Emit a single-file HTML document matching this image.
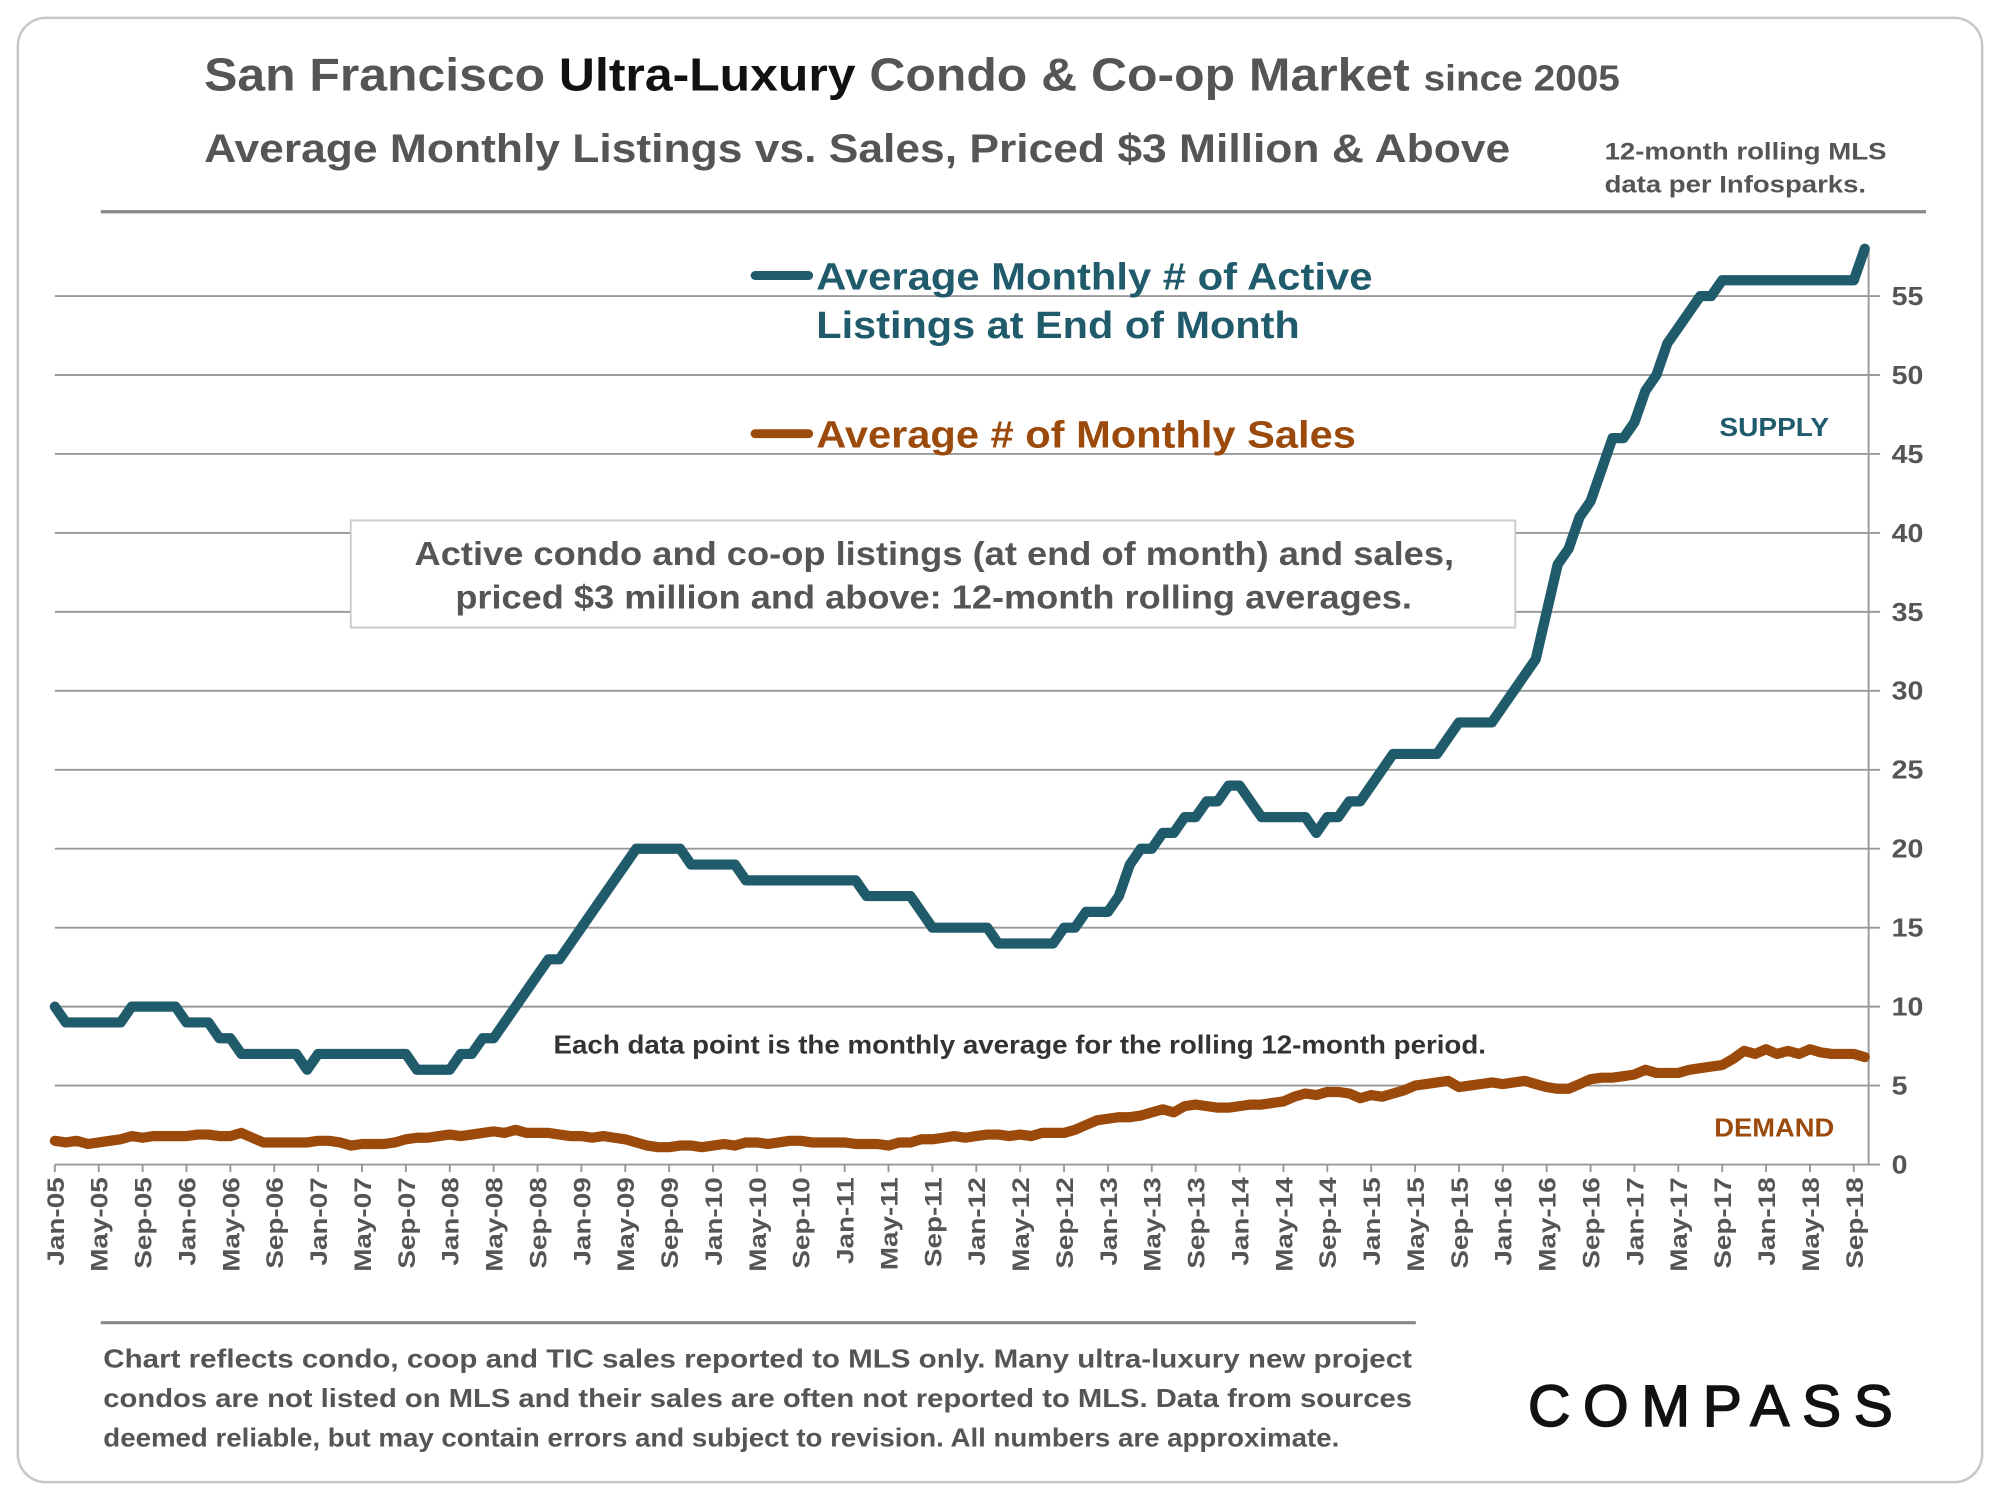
<!DOCTYPE html>
<html><head><meta charset="utf-8"><style>
html,body{margin:0;padding:0;background:#fff;}
svg{display:block;font-family:"Liberation Sans",Arial,sans-serif;font-weight:bold;}
</style></head><body>
<svg id="chart" width="2000" height="1500" viewBox="0 0 1568 1176" xmlns="http://www.w3.org/2000/svg">
<rect x="14" y="14" width="1540" height="1148" rx="22" fill="#fff" stroke="#c8c8c8" stroke-width="2"/>
<text x="160" y="71" font-size="36" fill="#555" textLength="1110" lengthAdjust="spacingAndGlyphs">San Francisco <tspan fill="#111">Ultra-Luxury</tspan> Condo &amp; Co-op Market <tspan font-size="28">since 2005</tspan></text>
<text x="160" y="127" font-size="31" fill="#555" textLength="1024" lengthAdjust="spacingAndGlyphs">Average Monthly Listings vs. Sales, Priced $3 Million &amp; Above</text>
<text x="1258" y="125" font-size="19" fill="#555" textLength="221" lengthAdjust="spacingAndGlyphs">12-month rolling MLS</text>
<text x="1258" y="151" font-size="19" fill="#555" textLength="205" lengthAdjust="spacingAndGlyphs">data per Infosparks.</text>
<line x1="79" y1="166" x2="1510" y2="166" stroke="#888" stroke-width="2.5"/>
<g id="grid"></g>
<g id="xaxis"></g>
<g id="yaxis"></g>
<g id="series"></g>
<g>
<line x1="592" y1="216" x2="634" y2="216" stroke="#205b6b" stroke-width="7" stroke-linecap="round"/>
<text x="640" y="227" font-size="30" fill="#205b6b" textLength="436" lengthAdjust="spacingAndGlyphs">Average Monthly # of Active</text>
<text x="640" y="265" font-size="30" fill="#205b6b" textLength="379" lengthAdjust="spacingAndGlyphs">Listings at End of Month</text>
<line x1="592" y1="340" x2="634" y2="340" stroke="#9b4a0b" stroke-width="7" stroke-linecap="round"/>
<text x="640" y="351" font-size="30" fill="#9b4a0b" textLength="423" lengthAdjust="spacingAndGlyphs">Average # of Monthly Sales</text>
</g>
<rect x="275" y="408" width="913" height="84" fill="#fff" stroke="#ccc" stroke-width="1.5"/>
<text x="325" y="443" font-size="26" fill="#555" textLength="815" lengthAdjust="spacingAndGlyphs">Active condo and co-op listings (at end of month) and sales,</text>
<text x="357" y="477" font-size="26" fill="#555" textLength="750" lengthAdjust="spacingAndGlyphs">priced $3 million and above: 12-month rolling averages.</text>
<text x="434" y="826" font-size="20" fill="#333" textLength="731" lengthAdjust="spacingAndGlyphs">Each data point is the monthly average for the rolling 12-month period.</text>
<text x="1348" y="342" font-size="20" fill="#205b6b" textLength="86" lengthAdjust="spacingAndGlyphs">SUPPLY</text>
<text x="1344" y="891" font-size="20" fill="#9b4a0b" textLength="94" lengthAdjust="spacingAndGlyphs">DEMAND</text>
<line x1="79" y1="1037" x2="1110" y2="1037" stroke="#888" stroke-width="2.5"/>
<text x="81" y="1072" font-size="20" fill="#555" textLength="1026" lengthAdjust="spacingAndGlyphs">Chart reflects condo, coop and TIC sales reported to MLS only. Many ultra-luxury new project</text>
<text x="81" y="1103" font-size="20" fill="#555" textLength="1026" lengthAdjust="spacingAndGlyphs">condos are not listed on MLS and their sales are often not reported to MLS. Data from sources</text>
<text x="81" y="1134" font-size="20" fill="#555" textLength="969" lengthAdjust="spacingAndGlyphs">deemed reliable, but may contain errors and subject to revision. All numbers are approximate.</text>
<text x="1198" y="1118" font-size="46" font-weight="normal" fill="#111" stroke="#111" stroke-width="1.2" textLength="286" lengthAdjust="spacing">COMPASS</text>
</svg>
<script>
const months = ["Jan","Feb","Mar","Apr","May","Jun","Jul","Aug","Sep","Oct","Nov","Dec"];
const yTicks = [0,5,10,15,20,25,30,35,40,45,50,55];
const activeListings = [10,9,9,9,9,9,9,10,10,10,10,10,9,9,9,8,8,7,7,7,7,7,7,6,7,7,7,7,7,7,7,7,7,6,6,6,6,7,7,8,8,9,10,11,12,13,13,14,15,16,17,18,19,20,20,20,20,20,19,19,19,19,19,18,18,18,18,18,18,18,18,18,18,18,17,17,17,17,17,16,15,15,15,15,15,15,14,14,14,14,14,14,15,15,16,16,16,17,19,20,20,21,21,22,22,23,23,24,24,23,22,22,22,22,22,21,22,22,23,23,24,25,26,26,26,26,26,27,28,28,28,28,29,30,31,32,35,38,39,41,42,44,46,46,47,49,50,52,53,54,55,55,56,56,56,56,56,56,56,56,56,56,56,56,56,58];
const monthlySales = [1.5,1.4,1.5,1.3,1.4,1.5,1.6,1.8,1.7,1.8,1.8,1.8,
1.8,1.9,1.9,1.8,1.8,2.0,1.7,1.4,1.4,1.4,1.4,1.4,
1.5,1.5,1.4,1.2,1.3,1.3,1.3,1.4,1.6,1.7,1.7,1.8,
1.9,1.8,1.9,2.0,2.1,2.0,2.2,2.0,2.0,2.0,1.9,1.8,
1.8,1.7,1.8,1.7,1.6,1.4,1.2,1.1,1.1,1.2,1.2,1.1,
1.2,1.3,1.2,1.4,1.4,1.3,1.4,1.5,1.5,1.4,1.4,1.4,
1.4,1.3,1.3,1.3,1.2,1.4,1.4,1.6,1.6,1.7,1.8,1.7,
1.8,1.9,1.9,1.8,1.9,1.8,2.0,2.0,2.0,2.2,2.5,2.8,
2.9,3.0,3.0,3.1,3.3,3.5,3.3,3.7,3.8,3.7,3.6,3.6,
3.7,3.8,3.8,3.9,4.0,4.3,4.5,4.4,4.6,4.6,4.5,4.2,
4.4,4.3,4.5,4.7,5.0,5.1,5.2,5.3,4.9,5.0,5.1,5.2,
5.1,5.2,5.3,5.1,4.9,4.8,4.8,5.1,5.4,5.5,5.5,5.6,
5.7,6.0,5.8,5.8,5.8,6.0,6.1,6.2,6.3,6.7,7.2,7.0,
7.3,7.0,7.2,7.0,7.3,7.1,7.0,7.0,7.0,6.8];

const NS = "http://www.w3.org/2000/svg";
const X0 = 43, XSTEP = 8.6, Y0 = 913, YUNIT = 12.38, AXIS_X = 1465;
const n = activeListings.length;
function xScale(i){ return X0 + i * XSTEP; }
function yScale(v){ return Y0 - v * YUNIT; }
function mk(tag, attrs, parent){
  const e = document.createElementNS(NS, tag);
  for (const k in attrs) e.setAttribute(k, attrs[k]);
  parent.appendChild(e); return e;
}
const grid = document.getElementById("grid");
const yaxis = document.getElementById("yaxis");
const xaxis = document.getElementById("xaxis");
const series = document.getElementById("series");
yTicks.forEach(v => {
  const l = mk("line", {x1: X0, x2: AXIS_X + 9, y1: yScale(v), y2: yScale(v), stroke: "#999", "stroke-width": 1.5}, grid);
  
  
  const t = mk("text", {x: 0, y: 0, "font-size": 20, fill: "#555", transform: "translate(1483," + (yScale(v) + 7) + ") scale(1.12,1)"}, yaxis);
  t.textContent = v;
  
  
});
const ax = mk("line", {x1: AXIS_X, x2: AXIS_X, y1: yScale(58), y2: Y0, stroke: "#999", "stroke-width": 1.5}, yaxis);


for (let i = 0; i < n; i += 4) {
  const x = xScale(i);
  const tk = mk("line", {x1: x, x2: x, y1: Y0, y2: Y0 + 6, stroke: "#999", "stroke-width": 1.5}, xaxis);
  
  
  const yr = String(5 + Math.floor(i / 12)).padStart(2, "0");
  const t = mk("text", {x: 0, y: 0, "font-size": 19, fill: "#555", "text-anchor": "end", transform: "translate(" + (x + 7) + "," + (Y0 + 10) + ") rotate(-90) scale(1.15,1)"}, xaxis);
  t.textContent = months[i % 12] + "-" + yr;
  
  
}
function drawLine(vals, color, name){
  const d = vals.map((v, i) => (i ? "L" : "M") + xScale(i).toFixed(1) + "," + yScale(v).toFixed(1)).join(" ");
  const p = mk("path", {d: d, fill: "none", stroke: color, "stroke-width": 8, "stroke-linejoin": "round", "stroke-linecap": "round"}, series);
  
  
}
drawLine(monthlySales, "#9b4a0b", "sales-line");
drawLine(activeListings, "#205b6b", "active-listings-line");
</script>
</body></html>
